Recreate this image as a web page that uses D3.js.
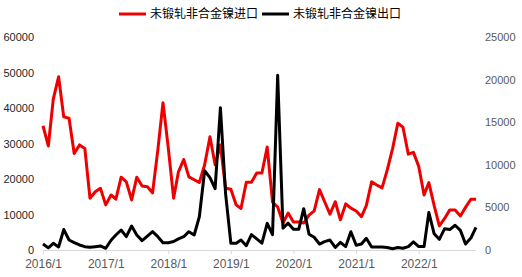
<!DOCTYPE html>
<html>
<head>
    <meta http-equiv="Content-Type" content="text/html;charset=utf-8">
    <title>未锻轧非合金镍进出口</title>
    <script type="text/javascript" src="https://d3js.org/d3.v7.min.js"></script>
    <style>
        * { margin: 0; padding: 0; box-sizing: border-box; }
        html, body { width: 100%; height: 100%; background: #fff; overflow: hidden; }
        text { font-family: "Liberation Sans", Arial, sans-serif; }
        .legend text { font-family: "Noto Sans CJK SC", sans-serif; font-size: 12px; fill: #000; }
        path.line { fill: none; stroke-width: 3px; stroke-linejoin: round; }
    </style>
</head>
<body>
<script type="text/javascript">
    // monthly series, 2016/1 .. 2022/12
    var importName = "未锻轧非合金镍进口";
    var exportName = "未锻轧非合金镍出口";
    var importVals = [
        35000, 29300, 42500, 48800, 37500, 37100, 27200, 29600, 28600, 14600, 16400, 17400,
        12700, 15500, 14300, 20500, 19200, 14100, 20500, 18000, 17800, 16100, 28200, 41500,
        28700, 14600, 22000, 25500, 20600, 19800, 19000, 24000, 31900, 24000, 29600, 17400,
        17100, 12700, 11700, 19100, 19100, 21700, 21700, 29000, 13500, 12100, 7600, 10400,
        7900, 7900, 7600, 9800, 11000, 17000, 13600, 10100, 13600, 8500, 13000, 11800,
        11000, 9400, 12500, 19200, 18300, 17500, 22500, 28500, 35700, 34600, 27000, 27500,
        23500, 15500, 19000, 12500, 6800, 8900, 11300, 11300, 9600, 12000, 14300, 14300
    ];
    var exportVals = [
        700, 250, 780, 350, 2400, 1170, 860, 590, 390, 310, 390, 470,
        200, 1150, 1760, 2350, 1560, 2820, 1760, 1100, 1640, 2150, 1560, 860,
        860, 1000, 1300, 1560, 2150, 1760, 3900, 9300, 8500, 7200, 16700, 6650,
        780, 780, 1170, 500, 1800, 1300, 800, 3130, 1800, 20500, 2550, 3150,
        2430, 2430, 4850, 1850, 1500, 700, 980, 1170, 300, 900, 400, 2150,
        550, 700, 1370, 350, 350, 350, 300, 150, 300, 200, 400, 950,
        400, 400, 4400, 1900, 1250, 2500, 2400, 2900, 2300, 700, 1400, 2650
    ];
    var xTickLabels = ["2016/1", "2017/1", "2018/1", "2019/1", "2020/1", "2021/1", "2022/1"];
    var leftTicks = [0, 10000, 20000, 30000, 40000, 50000, 60000];
    var rightTicks = [0, 5000, 10000, 15000, 20000, 25000];

    var parseMonth = d3.timeParse("%Y/%m");
    var months = d3.timeMonth.range(new Date(2016, 0, 1), new Date(2023, 0, 1));

    var W = 522, H = 277;
    var plot = { left: 43, right: 476, top: 37, bottom: 250 };

    var x = d3.scaleTime()
        .domain([months[0], months[months.length - 1]])
        .range([plot.left, plot.right]);
    var yL = d3.scaleLinear().domain([0, 60000]).range([plot.bottom, plot.top]);
    var yR = d3.scaleLinear().domain([0, 25000]).range([plot.bottom, plot.top]);

    var svg = d3.select("body").append("svg").attr("width", W).attr("height", H);

    // x axis
    var xAxis = d3.axisBottom(x)
        .tickValues(xTickLabels.map(parseMonth))
        .tickFormat(function (d) { return d.getFullYear() + "/" + (d.getMonth() + 1); })
        .tickSize(4)
        .tickPadding(5);
    var gx = svg.append("g")
        .attr("transform", "translate(0," + plot.bottom + ")")
        .call(xAxis);
    gx.select(".domain").attr("stroke", "#d9d9d9").attr("d", "M" + plot.left + ",0.5H" + plot.right);
    gx.selectAll(".tick line").attr("stroke", "#d9d9d9");
    gx.selectAll(".tick text").attr("fill", "#595959").style("font-size", "12px");

    // left axis
    var gl = svg.append("g")
        .attr("transform", "translate(" + plot.left + ",0)")
        .call(d3.axisLeft(yL).tickValues(leftTicks).tickFormat(d3.format("d")).tickSize(0).tickPadding(9));
    gl.select(".domain").remove();
    gl.selectAll(".tick text").attr("fill", "#262626").style("font-size", "11px");

    // right axis
    var gr = svg.append("g")
        .attr("transform", "translate(" + plot.right + ",0)")
        .call(d3.axisRight(yR).tickValues(rightTicks).tickFormat(d3.format("d")).tickSize(0).tickPadding(9));
    gr.select(".domain").remove();
    gr.selectAll(".tick text").attr("fill", "#595959").style("font-size", "11px");

    var lineL = d3.line()
        .x(function (d, i) { return x(months[i]); })
        .y(function (d) { return yL(d); });
    var lineR = d3.line()
        .x(function (d, i) { return x(months[i]); })
        .y(function (d) { return yR(d); });

    svg.append("path").attr("class", "line").attr("stroke", "#ee0000").attr("d", lineL(importVals));
    svg.append("path").attr("class", "line").attr("stroke", "#000000").attr("d", lineR(exportVals));

    // legend
    var legend = svg.append("g").attr("class", "legend");
    var items = [
        { name: importName, color: "#ee0000", x: 119 },
        { name: exportName, color: "#000000", x: 262 }
    ];
    items.forEach(function (it) {
        legend.append("line")
            .attr("x1", it.x).attr("x2", it.x + 27)
            .attr("y1", 14).attr("y2", 14)
            .attr("stroke", it.color).attr("stroke-width", 3);
        legend.append("text")
            .attr("x", it.x + 31).attr("y", 14)
            .attr("dy", "0.35em")
            .text(it.name);
    });
</script>
</body>
</html>
